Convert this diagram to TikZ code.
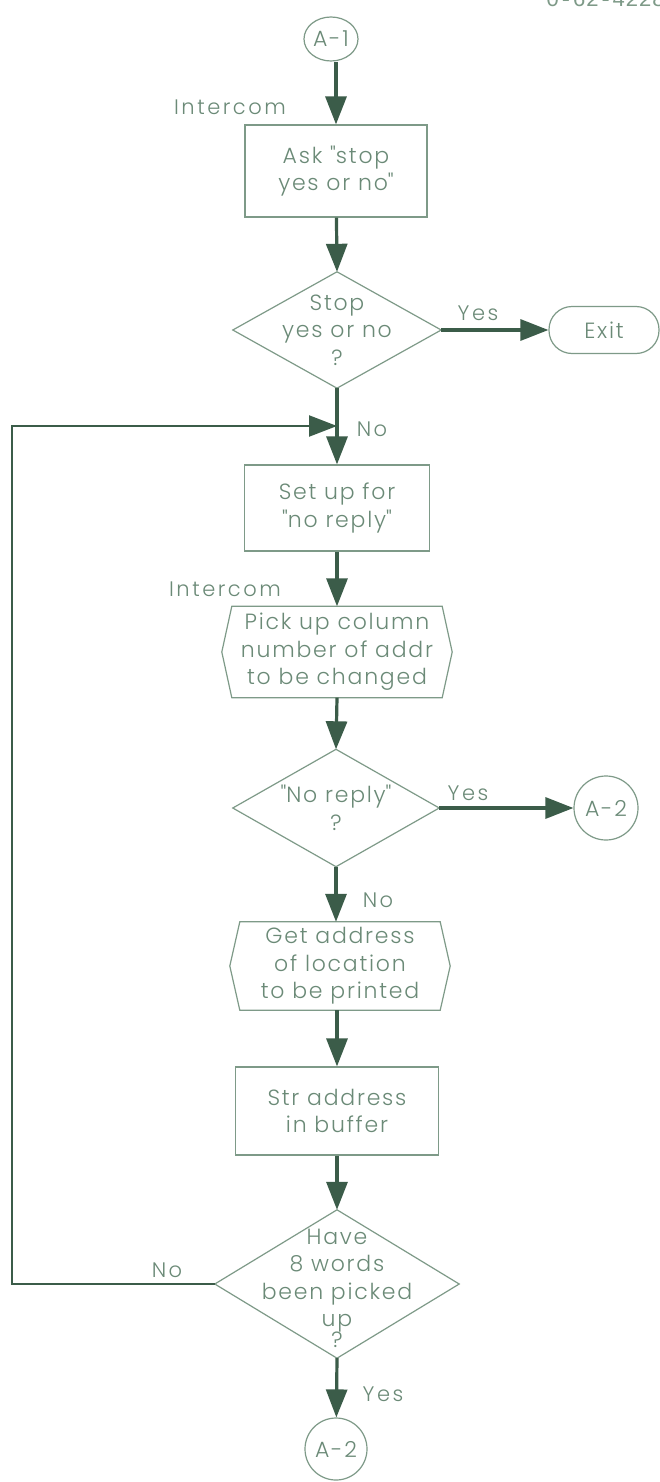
\documentclass[tikz,border=0pt]{standalone}
\usepackage{fontspec}
\setmainfont{Poppins}[UprightFont=* Light, LetterSpace=8]
\newfontfamily\typefont{Liberation Mono}
\usetikzlibrary{arrows.meta,calc,shapes.geometric}
\definecolor{ink}{HTML}{3B5C49}
\definecolor{pen}{HTML}{6B8A77}
\definecolor{outl}{HTML}{7E9A88}
\newcommand{\qq}{\textquotedbl}
\begin{document}
\begin{tikzpicture}[x=1pt,y=-1pt,
  every node/.style={font=\fontsize{22}{27.5}\selectfont, text=pen, align=center, inner sep=0pt},
  lbl/.style={font=\fontsize{21}{24}\selectfont\addfontfeature{LetterSpace=12}},
  frame/.style={draw=outl, line width=1.2pt},
  boxnode/.style={frame, fill=white, minimum width=184pt, minimum height=90pt},
  flow/.style={draw=ink, line width=3.2pt, -{Triangle[length=28pt,width=21pt]}},
  loopline/.style={draw=ink, line width=2.2pt},
  conn/.style={frame, circle, minimum size=56pt}
]
\useasboundingbox (0,0) rectangle (660,1482);
\fill[white] (0,0) rectangle (660,1482);

% drawing number, cut by the top edge
\node[anchor=base west, font=\typefont\fontsize{22}{22}\selectfont, text=outl] (num) at (546,7) {0-62-4228};

% start connector
\node[frame, ellipse, minimum width=54pt, minimum height=44pt] (a1) at (331,39) {A-1};
\node[lbl] (ic1) at (230,107) {Intercom};

\node[boxnode, minimum width=182pt, minimum height=92pt] (b1) at (336,171) {Ask \qq stop\\yes or no\qq};

% first decision
\node[minimum width=208pt, minimum height=116pt] (d1) at (337,330) {Stop\\yes or no\\?};
\draw[frame] (d1.north)--(d1.east)--(d1.south)--(d1.west)--cycle;
\node[frame, rounded corners=23pt, minimum width=110pt, minimum height=47pt] (ex) at (604,330) {Exit};
\node[lbl] (y1) at (478,313) {Yes};

% set up box
\node[boxnode, minimum width=185pt, minimum height=86pt] (b2) at (337,508) {Set up for\\\qq no reply\qq};
\node[lbl] (no1) at (372,429) {No};
\node[lbl] (ic2) at (225,589) {Intercom};
\coordinate (j1) at (337,426);

% pick up column number (hexagon)
\node[minimum width=230pt, minimum height=91pt] (h1) at (337,652) {Pick up column\\number of addr\\to be changed};
\draw[frame] (h1.west)--($(h1.north west)+(10,0)$)--($(h1.north east)+(-10,0)$)--(h1.east)
  --($(h1.south east)+(-10,0)$)--($(h1.south west)+(10,0)$)--cycle;

% second decision
\node[minimum width=206pt, minimum height=117pt] (d2) at (336,808) {\qq No reply\qq\\?};
\draw[frame] (d2.north)--(d2.east)--(d2.south)--(d2.west)--cycle;
\node[conn, minimum size=64pt] (a2r) at (606,808) {A-2};
\node[lbl] (y2) at (468,793) {Yes};
\node[lbl] (no2) at (378,900) {No};

% get address (hexagon)
\node[minimum width=220pt, minimum height=88pt] (h2) at (340,966) {Get address\\of location\\to be printed};
\draw[frame] (h2.west)--($(h2.north west)+(10,0)$)--($(h2.north east)+(-10,0)$)--(h2.east)
  --($(h2.south east)+(-10,0)$)--($(h2.south west)+(10,0)$)--cycle;

\node[boxnode, minimum width=203pt, minimum height=88pt] (b3) at (337,1111) {Str address\\in buffer};

% third decision
\node[minimum width=244pt, minimum height=148pt] (d3) at (337,1284) {};
\draw[frame] (d3.north)--(d3.east)--(d3.south)--(d3.west)--cycle;
\node (d3t) at (337,1288) {Have\\8 words\\been picked\\up\\[-7pt]?};
\node[lbl] (no3) at (167,1270) {No};
\node[conn, minimum size=62pt] (a2b) at (336,1449) {A-2};
\node[lbl] (y3) at (383,1394) {Yes};

% connectors
\draw[flow] (a1.south -| b1.north) -- (b1.north);
\draw[flow] (b1) -- (d1.north);
\draw[flow] (d1.east) -- (ex.west);
\draw[draw=ink, line width=3.2pt] (d1.south) -- (j1);
\draw[flow] (j1) -- (b2.north);
\draw[flow] (b2) -- (h1.north);
\draw[flow] (h1.south) -- (d2.north);
\draw[flow] (d2.east) -- (a2r.west);
\draw[flow] (d2.south) -- (h2.north -| d2.south);
\draw[flow] (h2.south -| b3.north) -- (b3.north);
\draw[flow] (b3) -- (d3.north);
\draw[flow] (d3.south) -- (a2b);
\draw[loopline] (d3.west) -- (12,1284) -- (12,426) -- (300,426);
\draw[flow, line width=2.2pt] (250,426) -- (j1);
\end{tikzpicture}
\end{document}
